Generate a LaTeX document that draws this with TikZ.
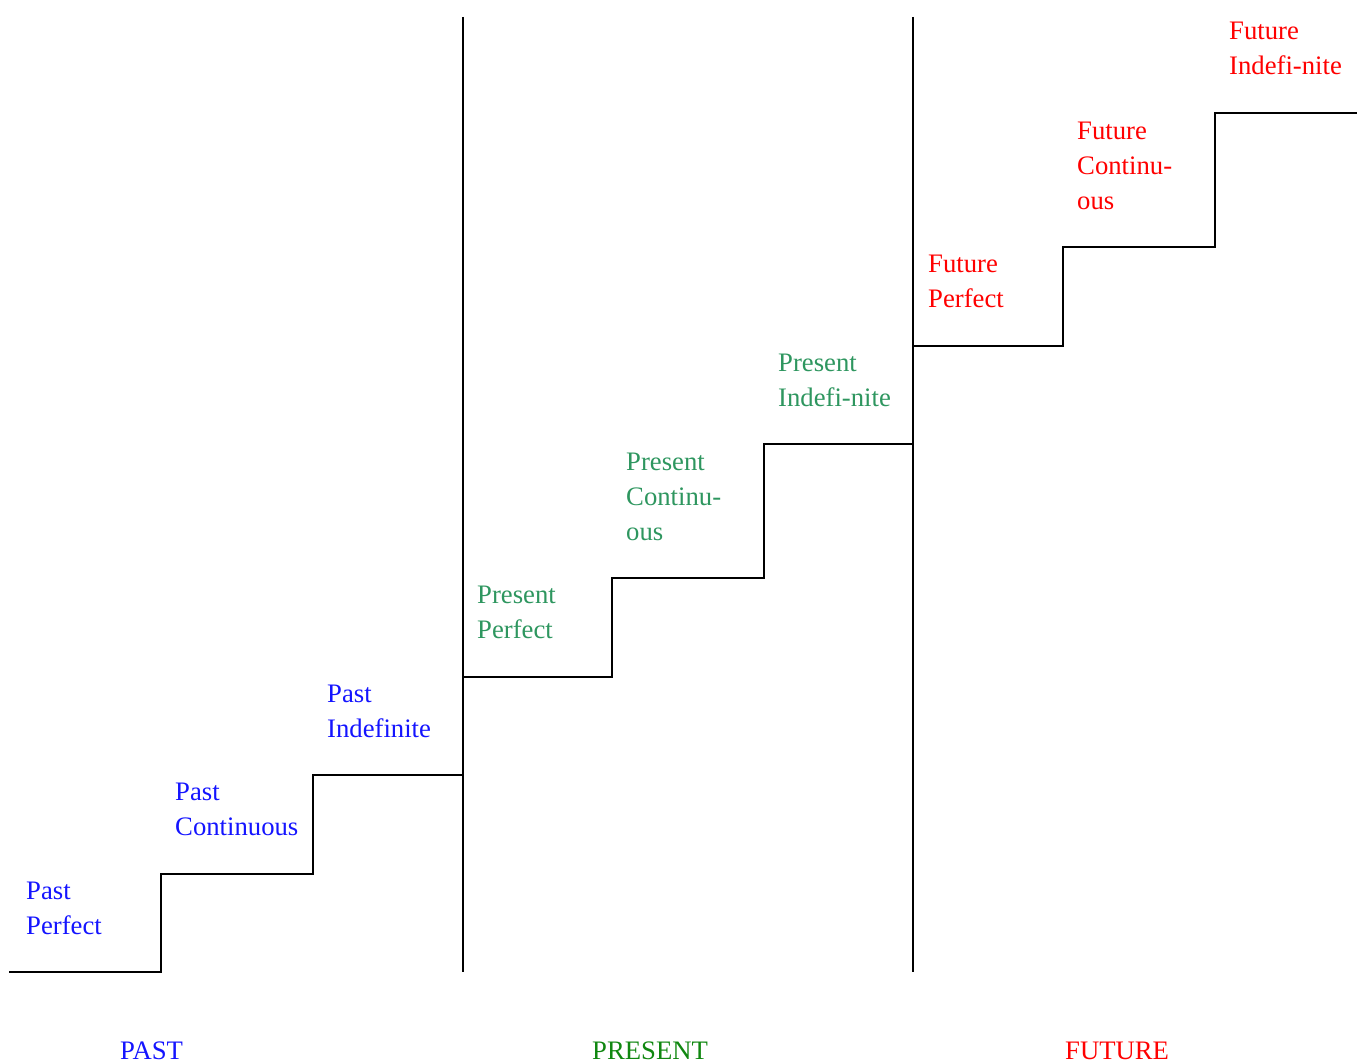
\documentclass[tikz,border=0pt]{standalone}
\usepackage{fontspec}
\setmainfont{Liberation Serif}
\definecolor{pastblue}{RGB}{20,20,255}
\definecolor{presgreen}{RGB}{46,150,95}
\definecolor{presdark}{RGB}{16,135,16}
\definecolor{futred}{RGB}{255,0,0}
\begin{document}
\begin{tikzpicture}[x=1pt,y=-1pt,
  lbl/.style={anchor=base west,inner sep=0pt,align=left,font=\fontsize{26.7}{35}\selectfont},
  pastlbl/.style={lbl,text=pastblue},
  preslbl/.style={lbl,text=presgreen},
  futlbl/.style={lbl,text=futred},
  stair/.style={line width=2pt,line join=miter,line cap=rect}]
\useasboundingbox (0,0) rectangle (1357,1062);
% staircase
\draw[stair] (10,972) -- (161,972) -- (161,874) -- (313,874) -- (313,775) -- (463,775)
  -- (463,677) -- (612,677) -- (612,578) -- (764,578) -- (764,444) -- (913,444)
  -- (913,346) -- (1063,346) -- (1063,247) -- (1215,247) -- (1215,113) -- (1357,113);
% dividers
\coordinate (d1t) at (463,17); \coordinate (d1b) at (463,972);
\coordinate (d2t) at (913,17); \coordinate (d2b) at (913,972);
\draw[line width=2pt] (d1t) -- (d1b);
\draw[line width=2pt] (d2t) -- (d2b);
% labels (anchor = baseline of last line)
\node[pastlbl] (pp) at (26,934) {Past\\Perfect};
\node[pastlbl] (pc) at (175,835) {Past\\Continuous};
\node[pastlbl] (pi) at (327,737) {Past\\Indefinite};
\node[preslbl] (rp) at (477,638) {Present\\Perfect};
\node[preslbl] (rc) at (626,540) {Present\\Continu-\\ous};
\node[preslbl] (ri) at (778,406) {Present\\Indefi-nite};
\node[futlbl] (fp) at (928,307) {Future\\Perfect};
\node[futlbl] (fc) at (1077,209) {Future\\Continu-\\ous};
\node[futlbl] (fi) at (1229,75) {Future\\Indefi-nite};
\node[lbl,text=pastblue] (past) at (120,1059) {PAST};
\node[lbl,text=presdark] (present) at (592,1059) {PRESENT};
\node[lbl,text=futred] (future) at (1065,1059) {FUTURE};
\end{tikzpicture}
\end{document}
